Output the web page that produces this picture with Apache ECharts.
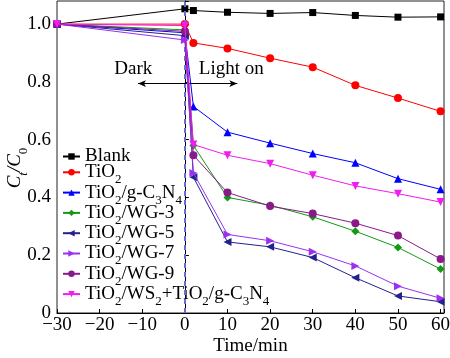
<!DOCTYPE html>
<html><head><meta charset="utf-8">
<script src="https://cdn.jsdelivr.net/npm/echarts@6/dist/echarts.min.js"></script>
<style>html,body{margin:0;padding:0;background:#fff}#c{width:450px;height:358px}</style>
</head><body><div id="c"></div>
<script>
const times = [-30, 0, 2, 10, 20, 30, 40, 50, 60];
const names = ['Blank', 'TiO2', 'TiO2/g-C3N4', 'TiO2/WG-3', 'TiO2/WG-5', 'TiO2/WG-7', 'TiO2/WG-9', 'TiO2/WS2+TiO2/g-C3N4'];
const blank   = [1.0, 1.053, 1.047, 1.041, 1.037, 1.040, 1.030, 1.024, 1.025];
const tio2    = [1.0, 1.000, 0.935, 0.916, 0.882, 0.851, 0.788, 0.744, 0.698];
const tio2gcn = [1.0, 0.970, 0.715, 0.626, 0.588, 0.552, 0.520, 0.465, 0.428];
const wg3     = [1.0, 0.980, 0.580, 0.400, 0.373, 0.333, 0.283, 0.227, 0.152];
const wg5     = [1.0, 0.960, 0.470, 0.246, 0.229, 0.192, 0.122, 0.059, 0.039];
const wg7     = [1.0, 0.945, 0.485, 0.272, 0.250, 0.212, 0.163, 0.093, 0.051];
const wg9     = [1.0, 0.975, 0.546, 0.417, 0.370, 0.344, 0.311, 0.268, 0.187];
const ws2mix  = [1.0, 0.995, 0.583, 0.546, 0.517, 0.477, 0.440, 0.413, 0.384];
const xTicks = [-30, -20, -10, 0, 10, 20, 30, 40, 50, 60];
const yTicks = [0, 0.2, 0.4, 0.6, 0.8, 1.0];

const values = [blank, tio2, tio2gcn, wg3, wg5, wg7, wg9, ws2mix];
const colors = ['#000000', '#ff0000', '#0000ff', '#129a12', '#22228e', '#9a30f0', '#8a1a8a', '#f01cf0'];
const symbols = ['rect', 'circle', 'triangle', 'diamond', 'triangle', 'triangle', 'circle', 'triangle'];
const rotates = [0, 0, 0, 0, 90, -90, 0, 180];

const FONT = 'Liberation Serif';
function chem(name) {
  let out = '';
  const parts = name.split(/(?<=[A-Za-z])(\d)/);
  parts.forEach((p, i) => {
    if (p === '') return;
    if (i % 2 === 1) out += '{s|' + p + '}';
    else out += '{n|' + p + '}';
  });
  return out;
}

const series = names.map((n, i) => ({
  name: n,
  type: 'line',
  data: times.map((t, j) => [t, values[i][j]]),
  symbol: symbols[i],
  symbolRotate: rotates[i],
  symbolSize: i === 0 ? 7 : 8,
  itemStyle: { color: colors[i] },
  lineStyle: { color: colors[i], width: 1 },
  z: 3 + i
}));

series[0].markLine = {
  silent: true,
  animation: false,
  label: { show: false },
  data: [
    [{ coord: [0, 0], symbol: 'none', lineStyle: { color: '#6b6bd6', width: 2, type: [5, 4] } },
     { coord: [0, 1.08], symbol: 'none' }],
    [{ coord: [-11, 0.794], symbol: 'arrow', lineStyle: { color: '#000', width: 1, type: 'solid' } },
     { coord: [12.3, 0.794], symbol: 'arrow' }]
  ],
  symbolSize: [5, 8]
};
series[0].markPoint = {
  silent: true,
  animation: false,
  symbol: 'circle',
  symbolSize: 0,
  label: { show: true, position: 'inside', color: '#000', fontFamily: FONT, fontSize: 19 },
  data: [
    { coord: [-12.1, 0.845], label: { formatter: 'Dark' } },
    { coord: [10.9, 0.845], label: { formatter: 'Light on' } }
  ]
};

const axisCommon = {
  axisLine: { show: true, lineStyle: { color: '#000', width: 1 } },
  axisTick: { show: true, inside: true, length: 4, lineStyle: { color: '#000' } },
  splitLine: { show: false },
  axisLabel: { color: '#000', fontFamily: FONT, fontSize: 19 },
  nameTextStyle: { color: '#000', fontFamily: FONT, fontSize: 19 }
};

const chart = echarts.init(document.getElementById('c'), null, { renderer: 'canvas' });
chart.setOption({
  animation: false,
  backgroundColor: '#fff',
  grid: { left: 57, right: 6, top: 1, bottom: 45, show: true, borderColor: '#222', borderWidth: 1, containLabel: false, outerBoundsMode: 'none' },
  xAxis: Object.assign({}, axisCommon, {
    type: 'value', min: -30, max: 60.8, interval: 10,
    name: 'Time/min', nameLocation: 'middle', nameGap: 24, nameMoveOverlap: false,
    axisLabel: Object.assign({}, axisCommon.axisLabel, {
      margin: 3,
      formatter: v => xTicks.includes(v) ? String(v).replace('-', '\u2212') : ''
    })
  }),
  yAxis: Object.assign({}, axisCommon, {
    type: 'value', min: 0, max: 1.08, interval: 0.2,
    name: '{i|C}{si|t}{i|/C}{s0|0}', nameLocation: 'middle', nameGap: 31, nameRotate: 90, nameMoveOverlap: false,
    nameTextStyle: {
      color: '#000', fontFamily: FONT, fontSize: 19, padding: [0, 22, 0, 0],
      rich: {
        i: { fontFamily: FONT, fontSize: 19, fontStyle: 'italic', color: '#000', lineHeight: 22 },
        si: { fontFamily: FONT, fontSize: 13, fontStyle: 'italic', color: '#000', verticalAlign: 'bottom', lineHeight: 22, padding: [0, 0, -4, 0] },
        s0: { fontFamily: FONT, fontSize: 13, color: '#000', verticalAlign: 'bottom', lineHeight: 22, padding: [0, 0, -4, 0] }
      }
    },
    axisLabel: Object.assign({}, axisCommon.axisLabel, {
      margin: 6,
      formatter: v => {
        const t = yTicks.find(y => Math.abs(y - v) < 1e-6);
        if (t === undefined) return '';
        return t === 0 ? '0' : t.toFixed(1);
      }
    })
  }),
  legend: {
    orient: 'vertical', left: 62, top: 147, padding: 0,
    itemWidth: 17, itemHeight: 8, itemGap: -3.2,
    data: names,
    formatter: n => chem(n),
    textStyle: {
      color: '#000', fontFamily: FONT, fontSize: 19,
      rich: {
        n: { fontFamily: FONT, fontSize: 19, color: '#000', lineHeight: 20 },
        s: { fontFamily: FONT, fontSize: 13, color: '#000', verticalAlign: 'bottom', lineHeight: 20, padding: [0, 0, -4, 0] }
      }
    }
  },
  series: series
});
</script>
</body></html>
